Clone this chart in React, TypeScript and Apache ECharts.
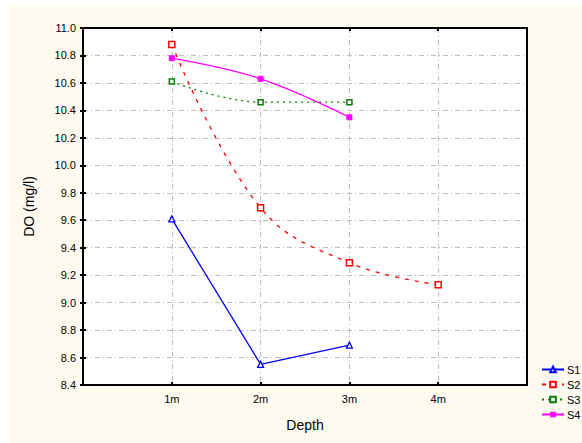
import React, { useEffect, useRef } from "react";
import * as echarts from "echarts";

const depths = ["1m", "2m", "3m", "4m"];
const s1 = [9.61, 8.55, 8.69];
const s2 = [10.88, 9.69, 9.29, 9.13];
const s3 = [10.61, 10.46, 10.46];
const s4 = [10.78, 10.63, 10.35];
const seriesNames = ["S1", "S2", "S3", "S4"];

const toPts = (arr: number[]) => arr.map((v, i) => [i + 1, v]);

export default function App() {
  const ref = useRef<HTMLDivElement>(null);
  useEffect(() => {
    if (!ref.current) return;
    const chart = echarts.init(ref.current, null, { renderer: "svg" });
    const font = "Liberation Sans, Arial, sans-serif";
    const gridLine = { show: true, showMinLine: false, showMaxLine: false, lineStyle: { color: "#bdbdbd", width: 1, type: [5, 3, 1, 3] } };
    chart.setOption({
      animation: false,
      backgroundColor: "#ffffff",
      graphic: [
        { type: "rect", z: -10, shape: { x: 9, y: 6, width: 600, height: 460 }, style: { fill: "#fffaf0" }, silent: true },
      ],
      grid: { left: 83, top: 28, right: 55, bottom: 58, show: true, backgroundColor: "#ffffff", borderColor: "#000", borderWidth: 2 },
      legend: {
        orient: "vertical",
        left: 536,
        top: 359,
        itemGap: 4,
        itemWidth: 22,
        itemHeight: 7,
        data: seriesNames,
        textStyle: { fontFamily: font, fontSize: 11, color: "#000", padding: [0, 0, 0, -2] },
      },
      xAxis: [
        {
          type: "value",
          min: 0,
          max: 5,
          interval: 1,
          name: "Depth",
          nameLocation: "middle",
          nameGap: 33,
          nameTextStyle: { fontFamily: font, fontSize: 14, color: "#000" },
          axisLine: { show: false },
          axisTick: { show: true, inside: true, length: 3, lineStyle: { color: "#000", width: 2 } },
          axisLabel: {
            fontFamily: font,
            fontSize: 11,
            color: "#000",
            margin: 8,
            formatter: (v: number) => (v >= 1 && v <= depths.length ? depths[v - 1] : ""),
          },
          splitLine: gridLine,
        },
        {
          type: "value",
          position: "top",
          min: 0,
          max: 5,
          interval: 1,
          axisLine: { show: false },
          axisTick: { show: true, inside: true, length: 3, lineStyle: { color: "#000", width: 2 } },
          axisLabel: { show: false },
          splitLine: { show: false },
        },
      ],
      yAxis: [
        {
          type: "value",
          min: 8.4,
          max: 11.0,
          interval: 0.2,
          name: "DO (mg/l)",
          nameLocation: "middle",
          nameGap: 47,
          nameTextStyle: { fontFamily: font, fontSize: 14, color: "#000" },
          axisLine: { show: false },
          axisTick: { show: true, inside: true, length: 3, lineStyle: { color: "#000", width: 2 } },
          axisLabel: { fontFamily: font, fontSize: 11, color: "#000", margin: 7, formatter: (v: number) => v.toFixed(1) },
          splitLine: gridLine,
        },
        {
          type: "value",
          position: "right",
          min: 8.4,
          max: 11.0,
          interval: 0.2,
          axisLine: { show: false },
          axisTick: { show: true, inside: true, length: 3, lineStyle: { color: "#000", width: 2 } },
          axisLabel: { show: false },
          splitLine: { show: false },
        },
      ],
      series: [
        {
          name: "S1",
          type: "line",
          data: toPts(s1),
          symbol: "triangle",
          symbolSize: 6,
          lineStyle: { color: "#0000ff", width: 1.3 },
          itemStyle: { color: "#ffffff", borderColor: "#0000ff", borderWidth: 1.3 },
          color: "#0000ff",
        },
        {
          name: "S2",
          type: "line",
          data: toPts(s2),
          smooth: 0.4,
          symbol: "rect",
          symbolSize: 6,
          lineStyle: { color: "#ff0000", width: 1.3, type: [4, 6] },
          itemStyle: { color: "#ffffff", borderColor: "#ff0000", borderWidth: 1.5 },
          color: "#ff0000",
        },
        {
          name: "S3",
          type: "line",
          data: toPts(s3),
          smooth: 0.4,
          symbol: "rect",
          symbolSize: 5,
          lineStyle: { color: "#008000", width: 1.3, type: [2, 4] },
          itemStyle: { color: "#ffffff", borderColor: "#008000", borderWidth: 1.5 },
          color: "#008000",
        },
        {
          name: "S4",
          type: "line",
          data: toPts(s4),
          smooth: 0.4,
          symbol: "rect",
          symbolSize: 5,
          lineStyle: { color: "#ff00ff", width: 1.3 },
          itemStyle: { color: "#ff00ff", borderColor: "#ff00ff" },
          color: "#ff00ff",
        },
      ],
    });
    return () => chart.dispose();
  }, []);
  return <div ref={ref} style={{ position: "fixed", left: 0, top: 0, width: 582, height: 443 }} />;
}
